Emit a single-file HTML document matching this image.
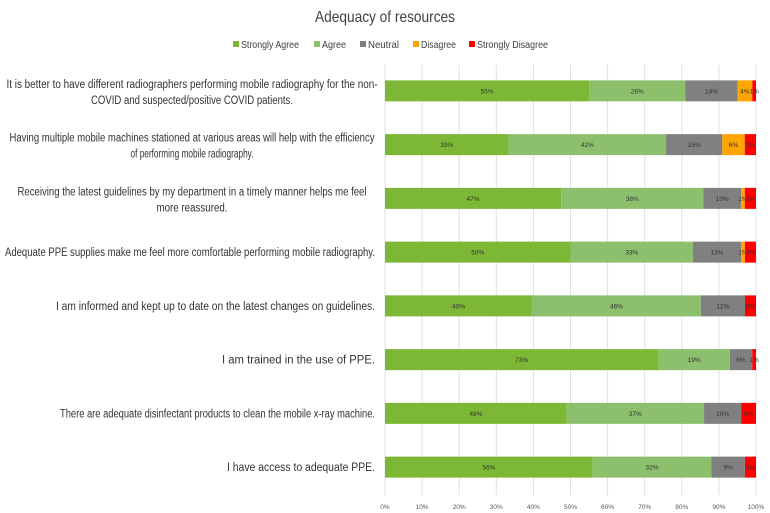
<!DOCTYPE html>
<html><head><meta charset="utf-8"><style>
body{margin:0;background:#fff;}
svg{display:block;font-family:"Liberation Sans",sans-serif;}
</style></head><body>
<svg id="chart" width="770" height="513" viewBox="0 0 770 513">
<text x="385" y="22" text-anchor="middle" font-size="16" fill="#404040" textLength="140" lengthAdjust="spacingAndGlyphs">Adequacy of resources</text>
<g id="legend"></g>
<g id="grid"></g>
<g id="bars"></g>
<g id="labels"></g>
<g id="ticks"></g>
</svg>
<script>
const categories = [
 ["It is better to have different radiographers performing mobile radiography for the non-","COVID and suspected/positive COVID patients."],
 ["Having multiple mobile machines stationed at various areas will help with the efficiency","of performing mobile radiography."],
 ["Receiving the latest guidelines by my department in a timely manner helps me feel","more reassured."],
 ["Adequate PPE supplies make me feel more comfortable performing mobile radiography."],
 ["I am informed and kept up to date on the latest changes on guidelines."],
 ["I am trained in the use of PPE."],
 ["There are adequate disinfectant products to clean the mobile x-ray machine."],
 ["I have access to adequate  PPE."]
];
const seriesNames = ["Strongly Agree","Agree","Neutral","Disagree","Strongly Disagree"];
const stronglyAgree = [55,33,47,50,40,73,49,56];
const agree = [26,42,38,33,46,19,37,32];
const neutral = [14,15,10,13,12,6,10,9];
const disagree = [4,6,1,1,0,0,0,0];
const stronglyDisagree = [1,3,3,3,3,1,4,3];
const tickLabels = ["0%","10%","20%","30%","40%","50%","60%","70%","80%","90%","100%"];

const colors = ["#7cb835","#8cc06c","#808080","#ffa500","#ff0000"];
const series = [stronglyAgree,agree,neutral,disagree,stronglyDisagree];
const NS="http://www.w3.org/2000/svg";
const x0=385,x1=756,yTop=65,yBot=495,barH=21;
const xs=v=>x0+(x1-x0)*v/100;
const band=(yBot-yTop)/categories.length;
const yc=i=>yTop+band*(i+0.5)-1;
function mk(tag,attrs,parent){const e=document.createElementNS(NS,tag);for(const k in attrs)e.setAttribute(k,attrs[k]);parent.appendChild(e);return e;}

const grid=document.getElementById('grid');
const ticks=document.getElementById('ticks');
tickLabels.forEach((t,i)=>{
  const x=xs(i*10);
  const l=mk('line',{x1:x,x2:x,y1:yTop,y2:yBot,stroke:'#e0e0e0','stroke-width':1},grid);
  
  
  const tx=mk('text',{x:x,y:509,'text-anchor':'middle','font-size':6.5,fill:'#595959'},ticks);
  tx.textContent=t;
  
  
});

const bars=document.getElementById('bars');
categories.forEach((c,i)=>{
  let total=0; series.forEach(s=>total+=s[i]);
  let cum=0;
  series.forEach((s,k)=>{
    const v=s[i]; if(!v){return;}
    const a=cum/total*100, b=(cum+v)/total*100;
    const r=mk('rect',{x:xs(a),y:yc(i)-barH/2,width:xs(b)-xs(a),height:barH,fill:colors[k]},bars);
    
    
    const t=mk('text',{x:(xs(a)+xs(b))/2,y:yc(i)+2.5,'text-anchor':'middle','font-size':6.5,fill:'#333'},bars);
    t.textContent=v+'%';
    
    
    cum+=v;
  });
});

const labels=document.getElementById('labels');
const widths=[[371,202],[365,123],[349,71],[370],[319],[153],[315],[148]];
categories.forEach((c,i)=>{
  c.forEach((line,j)=>{
    let t;
    if(c.length===2){
      t=mk('text',{x:192,y:yc(i)-3+j*16,'text-anchor':'middle','font-size':11.5,fill:'#333'},labels);
    } else {
      t=mk('text',{x:375,y:yc(i)+4,'text-anchor':'end','font-size':11.5,fill:'#333'},labels);
    }
    t.textContent=line;
    t.setAttribute('textLength',widths[i][j]);
    t.setAttribute('lengthAdjust','spacingAndGlyphs');
    
    
  });
});

const legend=document.getElementById('legend');
const legX=[233,314,360,413,469], legW=[58,24,31,35,71];
seriesNames.forEach((s,k)=>{
  const g=mk('g',{},legend);
  
  
  mk('rect',{x:legX[k],y:41,width:6,height:6,fill:colors[k]},g);
  const t=mk('text',{x:legX[k]+8,y:48,'font-size':10,fill:'#404040',textLength:legW[k],lengthAdjust:'spacingAndGlyphs'},g);
  t.textContent=s;
});
</script>
</body></html>
